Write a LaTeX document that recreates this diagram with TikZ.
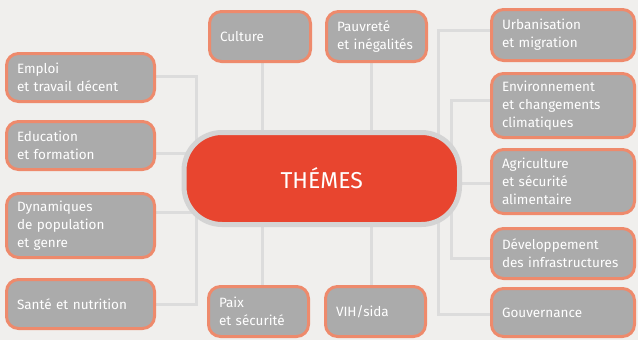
\documentclass[tikz,border=0pt]{standalone}
\usepackage{fontspec}
\setmainfont{Fira Sans}
\definecolor{bgcol}{HTML}{F0EFED}
\definecolor{boxcol}{HTML}{ABABAB}
\definecolor{edgecol}{HTML}{EE8A6C}
\definecolor{themecol}{HTML}{E8452F}
\definecolor{ringcol}{HTML}{D4D4D4}
\definecolor{linkcol}{HTML}{DCDCDC}
\pgfdeclarelayer{bg}
\pgfdeclarelayer{links}
\pgfsetlayers{bg,links,main}
\begin{document}
\begin{tikzpicture}[x=1pt,y=-1pt,
  topic/.style={draw=edgecol, fill=boxcol, line width=3pt, rounded corners=12pt,
    text=white, align=left, inner xsep=10.5pt, inner ysep=2pt,
    font=\fontsize{13.5}{18}\selectfont},
  theme/.style={draw=ringcol, fill=themecol, line width=5pt, rounded corners=38pt,
    text=white, minimum width=275.5pt, minimum height=92pt,
    font=\fontsize{23}{27}\selectfont},
  link/.style={draw=linkcol, line width=3pt}]
\begin{pgfonlayer}{bg}
\fill[bgcol] (0,0) rectangle (638,340);
\end{pgfonlayer}
\useasboundingbox (0,0) rectangle (638,340);

\node[theme] (theme) at (321.75,178.5) {THÉMES};

\node[topic, text width=80pt, minimum height=50pt] (culture) at (260,36.5) {Culture};
\node[topic, text width=79pt, minimum height=50pt] (pauvrete) at (376.5,36.5) {Pauvreté\\et~inégalités};
\node[topic, text width=79pt, minimum height=50pt] (paix) at (258.5,311.5) {Paix\\et~sécurité};
\node[topic, text width=79pt, minimum height=50pt] (vih) at (375.5,311.5) {VIH/sida};

\node[topic, text width=127pt, minimum height=48pt] (emploi) at (80.5,77.5) {Emploi\\et~travail~décent};
\node[topic, text width=127pt, minimum height=48pt] (education) at (80.5,145.5) {Education\\et~formation};
\node[topic, text width=127pt, minimum height=64pt] (dynamiques) at (80.5,225.5) {Dynamiques\\de~population\\et~genre};
\node[topic, text width=127pt, minimum height=49pt] (sante) at (80.5,304) {Santé~et~nutrition};

\node[topic, text width=122pt, minimum height=51pt] (urbanisation) at (563,35) {Urbanisation\\et~migration};
\node[topic, text width=122pt, minimum height=64pt] (environnement) at (563,105.5) {Environnement\\et~changements\\climatiques};
\node[topic, text width=122pt, minimum height=64pt] (agriculture) at (563,181.5) {Agriculture\\et~sécurité\\alimentaire};
\node[topic, text width=122pt, minimum height=50pt] (developpement) at (563,253.5) {Développement\\des~infrastructures};
\node[topic, text width=122pt, minimum height=48pt] (gouvernance) at (563,312.5) {Gouvernance};

\coordinate (ltrunk) at (196,0);
\coordinate (rtrunk) at (438,0);
\coordinate (itrunk) at (451,0);

\begin{pgfonlayer}{links}
\path[link] ([xshift=2pt]culture.south) -- ([xshift=2pt]culture.south |- theme.center);
\path[link] ([xshift=-5.5pt]pauvrete.south) -- ([xshift=-5.5pt]pauvrete.south |- theme.center);
\path[link] ([xshift=3.5pt]paix.north) -- ([xshift=3.5pt]paix.north |- theme.center);
\path[link] ([xshift=-4.5pt]vih.north) -- ([xshift=-4.5pt]vih.north |- theme.center);

\path[link] ([yshift=1.5pt]emploi.east) -| (ltrunk |- sante.east) -- (sante.east);
\path[link] ([yshift=-7.5pt]education.east) -- ([yshift=-7.5pt]education.east -| ltrunk);
\path[link] ([yshift=13.5pt]dynamiques.east) -- ([yshift=13.5pt]dynamiques.east -| ltrunk);

\path[link] ([yshift=5pt]urbanisation.west) -| ([yshift=-1.5pt]rtrunk |- gouvernance.west) -- ([yshift=-1.5pt]gouvernance.west);
\path[link] ([yshift=5.5pt]environnement.west) -| ([yshift=-4.5pt]itrunk |- developpement.west) -- ([yshift=-4.5pt]developpement.west);
\path[link] ([yshift=-1.5pt]agriculture.west) -- ([yshift=-1.5pt]agriculture.west -| theme.center);
\end{pgfonlayer}
\end{tikzpicture}
\end{document}
